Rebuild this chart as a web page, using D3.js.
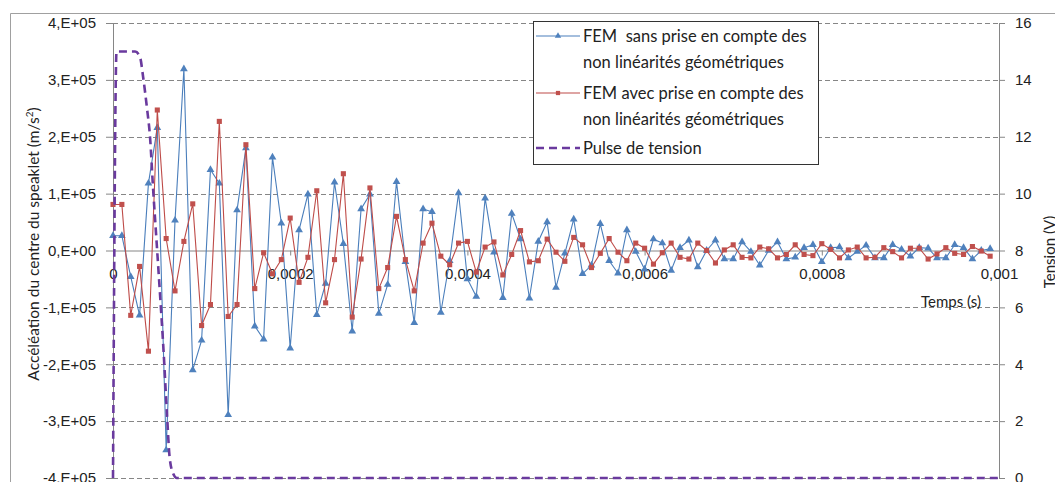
<!DOCTYPE html>
<html>
<head>
<meta charset="utf-8">
<script src="https://cdn.jsdelivr.net/npm/d3@7"></script>
<style>
  body { margin: 0; background: #fff; }
  svg { font-family: Lato, "Open Sans", sans-serif; }
  .axis path, .axis line { stroke: #868686; }
  .axis text { fill: #222; font-size: 15px; }
  text { white-space: pre; }
</style>
</head>
<body>
<div id="chart"></div>
<script>
// time in microseconds
let timesUs = [0,10,20,30,40,50,60,70,80,90,100,110,120,130,140,150,160,170,180,190,
  200,210,220,230,240,250,260,270,280,290,300,310,320,330,340,350,360,370,380,390,
  400,410,420,430,440,450,460,470,480,490,500,510,520,530,540,550,560,570,580,590,
  600,610,620,630,640,650,660,670,680,690,700,710,720,730,740,750,760,770,780,790,
  800,810,820,830,840,850,860,870,880,890,900,910,920,930,940,950,960,970,980,990];

// acceleration, units of 1E+05 m/s2
let sansNL = [0.26,0.26,-0.46,-1.14,1.18,2.16,-3.51,0.53,3.19,-2.1,
  -1.58,1.42,1.18,-2.89,0.71,1.8,-1.33,-1.56,1.64,0.48,
  -1.72,0.36,0.99,-1.13,-0.58,1.2,0.12,-1.42,0.73,0.99,
  -1.11,-0.6,1.21,-0.2,-1.27,0.73,0.68,-1.09,-0.18,1.01,
  -0.5,-0.81,0.92,-0.03,-0.83,0.65,0.2,-0.84,0.16,0.5,
  -0.65,-0.05,0.55,-0.41,-0.26,0.47,-0.18,-0.4,0.36,-0.02,
  -0.33,0.2,0.13,-0.35,0.05,0.18,-0.29,0,0.18,-0.15,
  -0.15,0.15,-0.02,-0.26,0,0.15,-0.15,-0.12,0.05,0.1,
  -0.2,0.05,0.06,-0.13,-0.02,0.09,-0.13,-0.13,0.1,0.02,
  -0.1,0.05,0.04,-0.13,-0.13,0.1,0.05,-0.15,0,0.03];

let avecNL = [0.81,0.81,-1.14,-0.28,-1.77,2.47,0.21,-0.71,0.16,0.82,
  -1.32,-0.95,2.27,-1.16,-0.95,1.86,-0.67,-0.04,-0.41,-0.16,
  0.57,-0.56,-0.12,1.05,-0.92,-0.16,1.35,-1.17,-0.15,1.1,
  -0.67,-0.3,0.6,-0.16,-0.71,0.13,0.48,-0.1,-0.25,0.13,
  0.16,-0.38,0.06,0.15,-0.43,-0.07,0.35,-0.2,-0.18,0.2,
  -0.03,-0.19,0.23,0.1,-0.3,-0.05,0.21,-0.03,-0.18,0.13,
  0.04,-0.24,-0.04,0.13,-0.12,-0.15,0.13,0,-0.22,0.01,
  0.1,-0.12,-0.13,0.06,0.03,-0.13,-0.07,0.1,-0.07,-0.09,
  0.12,0.02,-0.13,0.01,0.06,-0.13,-0.12,0.05,-0.02,-0.13,
  0.04,0.04,-0.15,-0.06,0.05,-0.05,-0.07,0.07,-0.01,-0.1];

// voltage pulse (right axis)
let pulseTimesUs = [0,4,6,25,30.5,34,38,42,45,49,53,57,61,64,68,72,1000];
let pulseVolts = [0,15,15,15,14.8,14.1,13.1,11.9,10.3,8.4,6.5,4.5,2.2,0.7,0.15,0,0];

let xTicks = [0,0.0002,0.0004,0.0006,0.0008,0.001];
let yTicks = [-4e5,-3e5,-2e5,-1e5,0,1e5,2e5,3e5,4e5];
let y2Ticks = [0,2,4,6,8,10,12,14,16];

let legendLabels = [
  ["FEM  sans prise en compte des", "non linéarités géométriques"],
  ["FEM avec prise en compte des", "non linéarités géométriques"],
  ["Pulse de tension"]
];

let W = 1055, H = 482;
let margin = {top: 23, right: 56, bottom: 4, left: 113};
let width = W - margin.left - margin.right,
    height = H - margin.top - margin.bottom;

let blueCol = "#4a7ebb", redCol = "#be4b48", purpleCol = "#6a3a9e";

let svgRoot = d3.select("#chart").append("svg")
    .attr("width", W)
    .attr("height", H);

// outer chart border
svgRoot.append("path")
    .attr("d", "M10.5," + H + "V13.5H" + W)
    .attr("fill", "none")
    .attr("stroke", "#a0a0a0");

let svg = svgRoot.append("g")
    .attr("transform", "translate(" + margin.left + "," + margin.top + ")");

let x = d3.scaleLinear().domain([0, 0.001]).range([0, width]);
let y = d3.scaleLinear().domain([-4e5, 4e5]).range([height, 0]);
let y2 = d3.scaleLinear().domain([0, 16]).range([height, 0]);

// gridlines
svg.selectAll(".grid")
    .data(yTicks.filter(d => d !== 0))
    .enter().append("line")
    .attr("class", "grid")
    .attr("x1", 0).attr("x2", width)
    .attr("y1", d => Math.round(y(d)) + 0.5)
    .attr("y2", d => Math.round(y(d)) + 0.5)
    .attr("stroke", "#868686")
    .attr("stroke-dasharray", "5,3");

// axes
let yFmt = d => d === 0 ? "0,E+00" : (d < 0 ? "-" : "") + Math.abs(d / 1e5) + ",E+05";
svg.append("g")
    .attr("class", "axis")
    .call(d3.axisLeft(y).tickValues(yTicks).tickFormat(yFmt).tickSize(7).tickPadding(10).tickSizeOuter(0));

svg.append("g")
    .attr("class", "axis")
    .attr("transform", "translate(" + width + ",0)")
    .call(d3.axisRight(y2).tickValues(y2Ticks).tickSize(6).tickPadding(10).tickSizeOuter(0));

let loc = d3.formatLocale({decimal: ",", thousands: " ", grouping: [3], currency: ["", ""]});
let xFmt = d => d === 0 ? "0" : loc.format("~g")(d);
svg.append("g")
    .attr("class", "axis")
    .attr("transform", "translate(0," + y(0) + ")")
    .call(d3.axisBottom(x).tickValues(xTicks).tickFormat(xFmt).tickSize(5).tickPadding(13).tickSizeOuter(0));

// axis titles
svg.append("text")
    .attr("x", 838).attr("y", 284)
    .attr("text-anchor", "middle")
    .attr("font-size", "15px")
    .attr("fill", "#222")
    .text("Temps (s)");

let yTitle = svgRoot.append("text")
    .attr("transform", "translate(39,244) rotate(-90)")
    .attr("text-anchor", "middle")
    .attr("font-size", "15.5px")
    .attr("fill", "#222");
yTitle.append("tspan").text("Accéléation du centre du speaklet (m/s");
yTitle.append("tspan").attr("baseline-shift", "super").attr("font-size", "10px").text("2");
yTitle.append("tspan").text(")");

svgRoot.append("text")
    .attr("transform", "translate(1055,252) rotate(-90)")
    .attr("text-anchor", "middle")
    .attr("font-size", "15px")
    .attr("fill", "#222")
    .text("Tension (V)");

// series
let line = d3.line()
    .x(d => x(d.t))
    .y(d => y(d.v));

let blueData = timesUs.map((t, i) => ({t: t * 1e-6, v: sansNL[i] * 1e5}));
let redData = timesUs.map((t, i) => ({t: t * 1e-6, v: avecNL[i] * 1e5}));

let tri = d3.symbol().type(d3.symbolTriangle).size(26);
let sq = d3.symbol().type(d3.symbolSquare).size(26);

svg.append("path")
    .datum(blueData)
    .attr("d", line)
    .attr("fill", "none")
    .attr("stroke", blueCol)
    .attr("stroke-width", 1.1);
svg.selectAll(".tri")
    .data(blueData)
    .enter().append("path")
    .attr("class", "tri")
    .attr("d", tri)
    .attr("transform", d => "translate(" + x(d.t) + "," + y(d.v) + ")")
    .attr("fill", "#4f81bd");

svg.append("path")
    .datum(redData)
    .attr("d", line)
    .attr("fill", "none")
    .attr("stroke", redCol)
    .attr("stroke-width", 1.1);
svg.selectAll(".sq")
    .data(redData)
    .enter().append("path")
    .attr("class", "sq")
    .attr("d", sq)
    .attr("transform", d => "translate(" + x(d.t) + "," + y(d.v) + ")")
    .attr("fill", "#c0504d");

let pulseLine = d3.line()
    .curve(d3.curveMonotoneX)
    .x(d => x(d.t))
    .y(d => y2(d.v));

svg.append("path")
    .datum(pulseTimesUs.map((t, i) => ({t: t * 1e-6, v: pulseVolts[i]})))
    .attr("d", pulseLine)
    .attr("fill", "none")
    .attr("stroke", purpleCol)
    .attr("stroke-width", 2.6)
    .attr("stroke-dasharray", "8,5");

// legend
let lg = svgRoot.append("g").attr("transform", "translate(533,21)");
lg.append("rect")
    .attr("x", 0.5).attr("y", 0.5)
    .attr("width", 285).attr("height", 143)
    .attr("fill", "#fff")
    .attr("stroke", "#333");

let rows = [
  {y: 15, col: blueCol, mcol: "#4f81bd", dash: null},
  {y: 72, col: redCol, mcol: "#c0504d", dash: null},
  {y: 127, col: purpleCol, dash: "8,5"}
];
rows.forEach((r, i) => {
  lg.append("line")
    .attr("x1", 3).attr("x2", 47)
    .attr("y1", r.y).attr("y2", r.y)
    .attr("stroke", r.col)
    .attr("stroke-width", r.dash ? 2.6 : 1.1)
    .attr("stroke-dasharray", r.dash);
  if (!r.dash) {
    lg.append("path")
      .attr("d", d3.symbol().type(i === 0 ? d3.symbolTriangle : d3.symbolSquare).size(18))
      .attr("transform", "translate(25," + r.y + ")")
      .attr("fill", r.mcol);
  }
  legendLabels[i].forEach((s, j) => {
    lg.append("text")
      .attr("x", 50).attr("y", r.y + j * 26)
      .attr("dy", "0.35em")
      .attr("font-size", "16.5px")
      .attr("fill", "#222")
      .text(s);
  });
});
</script>
</body>
</html>
